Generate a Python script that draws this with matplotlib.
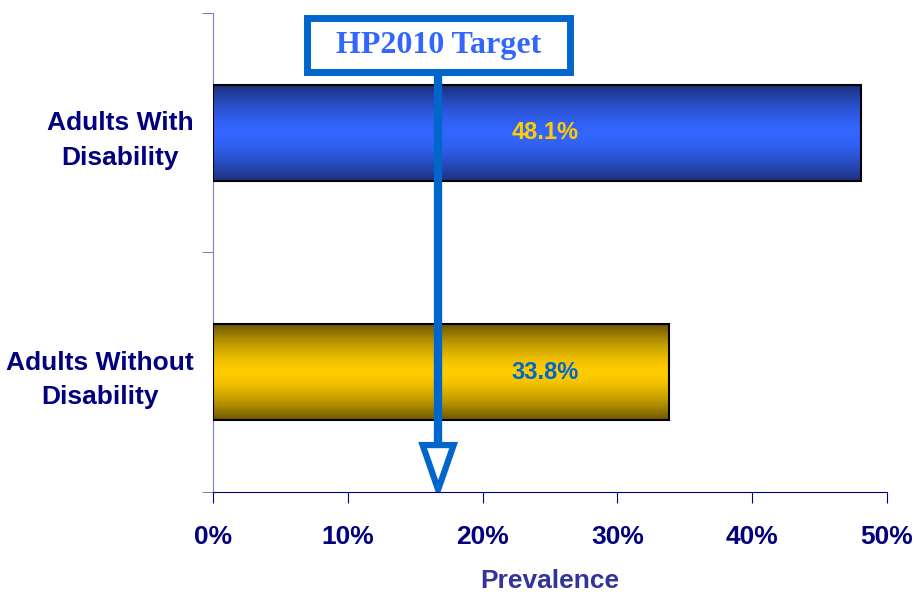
import numpy as np
import matplotlib.pyplot as plt
from matplotlib.patches import Polygon, Rectangle
from matplotlib.colors import LinearSegmentedColormap

# data
categories = ["Adults Without\nDisability", "Adults With\nDisability"]
values = [33.8, 48.1]
value_labels = ["33.8%", "48.1%"]
target = 16.7
xticks = [0, 10, 20, 30, 40, 50]
xtick_labels = ["0%", "10%", "20%", "30%", "40%", "50%"]

navy = "#000080"
bar_dark = ["#6b5600", "#1c2f78"]
bar_light = ["#ffcc00", "#3366ff"]
label_colors = ["#0066cc", "#ffcc00"]
arrow_col = "#0066cc"

plt.rcParams['font.family'] = ['Liberation Sans', 'DejaVu Sans']

fig = plt.figure(figsize=(9.19, 5.93), dpi=100)
ax = fig.add_axes([0.2318, 0.1703, 0.7334, 0.8078])
ax.set_xlim(0, 50)
ax.set_ylim(-0.5, 1.5)

bar_h = 0.4
bars = ax.barh(range(len(values)), values, height=bar_h, color="none",
               edgecolor="black", linewidth=1.5, zorder=3)

# vertical gradient fill for each bar
t = np.linspace(0, 1, 256)
g = 1 - np.abs(2 * t - 1) ** 1.6
for i, b in enumerate(bars):
    cmap = LinearSegmentedColormap.from_list("g%d" % i, [bar_dark[i], bar_light[i]])
    im = ax.imshow(g[:, None], cmap=cmap, aspect="auto", vmin=0, vmax=1,
                   extent=[0, values[i], i - bar_h / 2, i + bar_h / 2],
                   origin="lower", zorder=2)
    im.set_clip_path(b)
    ax.text(24.6, i, value_labels[i], ha="center", va="center", fontsize=17,
            fontweight="bold", color=label_colors[i], zorder=5)

ax.set_xlim(0, 50)
ax.set_ylim(-0.5, 1.5)

ax.set_xticks(xticks)
ax.set_xticklabels(xtick_labels)
ax.set_yticks(range(len(categories)))
ax.set_yticklabels(categories, linespacing=1.55, ha="right", multialignment="center")
ax.set_yticks([-0.5, 0.5, 1.5], minor=True)
ax.tick_params(axis="y", which="major", length=0, pad=14)
ax.tick_params(axis="y", which="minor", length=8, color="#6666b0", direction="out")
ax.tick_params(axis="x", length=8, color=navy, direction="out", pad=16)
for lab in ax.get_xticklabels() + ax.get_yticklabels():
    lab.set_fontsize(19)
    lab.set_fontweight("bold")
    lab.set_color(navy)

ax.spines["top"].set_visible(False)
ax.spines["right"].set_visible(False)
ax.spines["left"].set_color("#8080c0")
ax.spines["bottom"].set_color(navy)

ax.set_xlabel("Prevalence", fontsize=19, fontweight="bold", color="#333399", labelpad=14)

# HP2010 target box and arrow
box_y = 1.368
box_half_w = 9.75
box_half_h = 0.113
head_top = -0.304
head_w = 1.15
ax.plot([target, target], [box_y, head_top], color=arrow_col, lw=6,
        solid_capstyle="butt", zorder=6)
head = Polygon([[target - head_w, head_top], [target + head_w, head_top],
                [target, -0.49]], closed=True, facecolor="white",
               edgecolor=arrow_col, lw=4.5, zorder=7, joinstyle="miter")
ax.add_patch(head)
box = Rectangle((target - box_half_w, box_y - box_half_h), 2 * box_half_w,
                2 * box_half_h, facecolor="white", edgecolor=arrow_col,
                linewidth=5, zorder=8, clip_on=False)
ax.add_patch(box)
ax.text(target, box_y - 0.005, "HP2010 Target", ha="center", va="center",
        fontsize=23, fontweight="bold", color="#3366ff",
        family=["Liberation Serif", "DejaVu Serif"], zorder=9)

fig.savefig("out.png", dpi=100)
